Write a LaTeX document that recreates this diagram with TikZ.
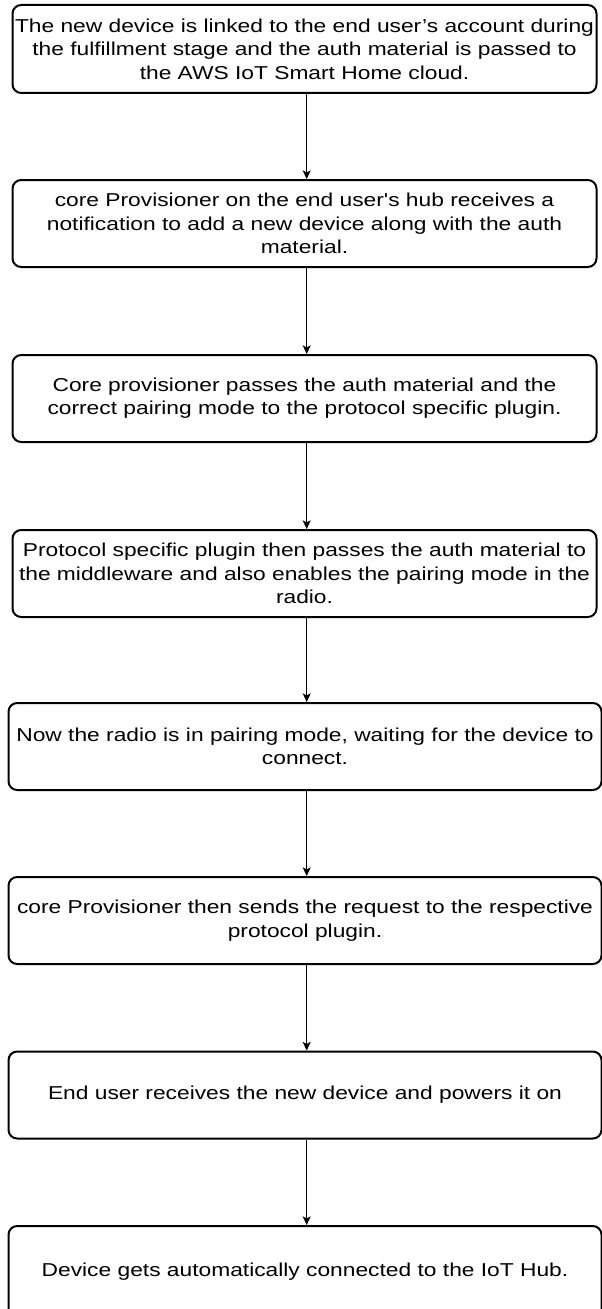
\documentclass[tikz,border=0pt]{standalone}
\usepackage{fontspec}
\newfontfamily\boxfont[FakeStretch=1.22,Ligatures=TeXOff]{Liberation Sans}
\usetikzlibrary{arrows.meta}
\begin{document}
\begin{tikzpicture}[x=0.75pt,y=-0.75pt,
  stepbox/.style={draw=black, line width=1.5pt, rounded corners=6.5pt, fill=white,
    align=center, inner sep=0pt, minimum height=65.25pt,
    font=\boxfont\fontsize{14}{17.5}\selectfont},
  narrowbox/.style={stepbox, minimum width=438pt},
  widebox/.style={stepbox, minimum width=444.75pt},
  flow/.style={draw=black, line width=0.75pt,
    -{Stealth[length=6.5pt,width=6pt,inset=1.6pt]}}
]
\useasboundingbox (0,0) rectangle (602,1309);

% the flow runs down a single vertical line
\coordinate (ax) at (306.7,0);

\node[narrowbox, minimum height=66pt] (s1) at (304.5,49)
  {The new device is linked to the end user’s account during\\
   the fulfillment stage and the auth material is passed to\\
   the AWS IoT Smart Home cloud.};
\node[narrowbox] (s2) at (304.5,223.5)
  {core Provisioner on the end user's hub receives a\\
   notification to add a new device along with the auth\\
   material.};
\node[narrowbox] (s3) at (304.5,398.5)
  {Core provisioner passes the auth material and the\\
   correct pairing mode to the protocol specific plugin.};
\node[narrowbox] (s4) at (304.5,573.5)
  {Protocol specific plugin then passes the auth material to\\
   the middleware and also enables the pairing mode in the\\
   radio.};
\node[widebox] (s5) at (305,746.5)
  {Now the radio is in pairing mode, waiting for the device to\\
   connect.};
\node[widebox] (s6) at (305,920.5)
  {core Provisioner then sends the request to the respective\\
   protocol plugin.};
\node[widebox] (s7) at (305,1095)
  {End user receives the new device and powers it on};
% the last box runs past the lower edge of the page
\node[widebox, minimum height=69pt] (s8) at (305,1272)
  {Device gets automatically connected to the IoT Hub.};

\foreach \a/\b in {s1/s2,s2/s3,s3/s4,s4/s5,s5/s6,s6/s7,s7/s8}
  \draw[flow] (\a.south -| ax) -- (\b.north -| ax);
\end{tikzpicture}
\end{document}
